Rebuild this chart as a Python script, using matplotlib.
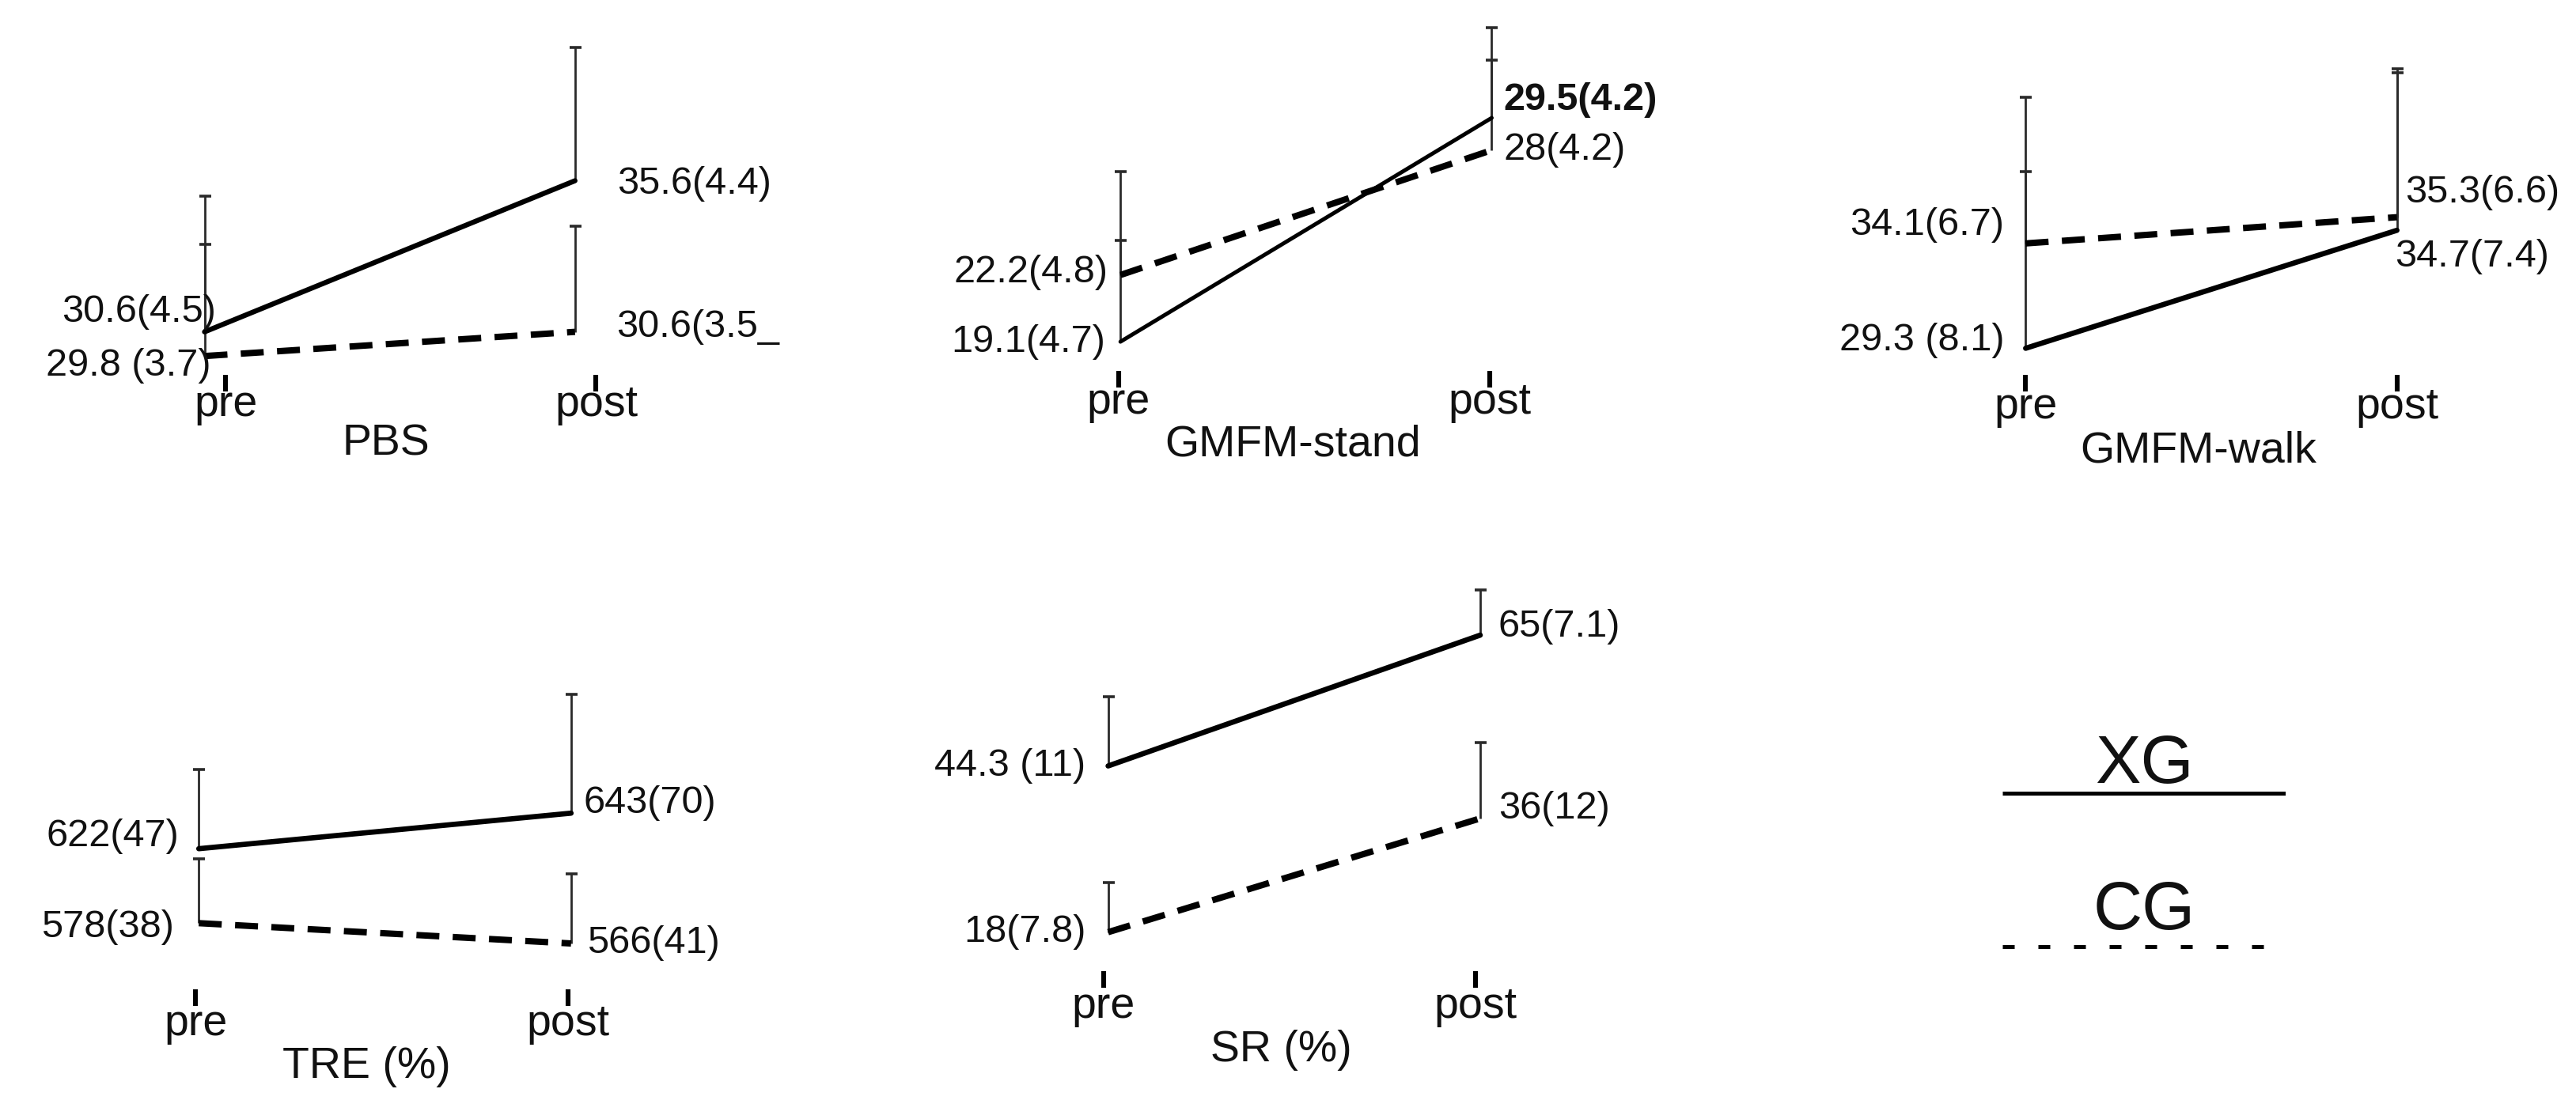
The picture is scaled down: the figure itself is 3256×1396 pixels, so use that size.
import numpy as np
import matplotlib
matplotlib.use("Agg")
import matplotlib.pyplot as plt

plt.rcParams['font.family'] = ['Liberation Sans', 'DejaVu Sans']

# ---------------- data ----------------
times = ['pre', 'post']
groups = ['XG', 'CG']
titles = ['PBS', 'GMFM-stand', 'GMFM-walk', 'TRE (%)', 'SR (%)']

pbs_xg_mean = [30.6, 35.6]
pbs_xg_sd = [4.5, 4.4]
pbs_cg_mean = [29.8, 30.6]
pbs_cg_sd = [3.7, 3.5]
pbs_xg_labels = ['30.6(4.5)', '35.6(4.4)']
pbs_cg_labels = ['29.8 (3.7)', '30.6(3.5_']

stand_xg_mean = [19.1, 29.5]
stand_xg_sd = [4.7, 4.2]
stand_cg_mean = [22.2, 28.0]
stand_cg_sd = [4.8, 4.2]
stand_xg_labels = ['19.1(4.7)', '29.5(4.2)']
stand_cg_labels = ['22.2(4.8)', '28(4.2)']

walk_xg_mean = [29.3, 34.7]
walk_xg_sd = [8.1, 7.4]
walk_cg_mean = [34.1, 35.3]
walk_cg_sd = [6.7, 6.6]
walk_xg_labels = ['29.3 (8.1)', '34.7(7.4)']
walk_cg_labels = ['34.1(6.7)', '35.3(6.6)']

tre_xg_mean = [622, 643]
tre_xg_sd = [47, 70]
tre_cg_mean = [578, 566]
tre_cg_sd = [38, 41]
tre_xg_labels = ['622(47)', '643(70)']
tre_cg_labels = ['578(38)', '566(41)']

sr_xg_mean = [44.3, 65.0]
sr_xg_sd = [11, 7.1]
sr_cg_mean = [18.0, 36.0]
sr_cg_sd = [7.8, 12]
sr_xg_labels = ['44.3 (11)', '65(7.1)']
sr_cg_labels = ['18(7.8)', '36(12)']

# ---------------- layout (in 1568x672 preview pixel units) ----------------
W, H = 1568.0, 672.0
PT = 2.077 * 72 / 200.0   # points per preview pixel


def fx(px):
    return px / W


def fy(py):
    return 1 - py / H


panels = [
    dict(xg=(pbs_xg_mean, pbs_xg_sd, pbs_xg_labels), cg=(pbs_cg_mean, pbs_cg_sd, pbs_cg_labels),
         x_pre=124.5, x_post=350, y0=202, v0=30.6, s=18.4, y_bot=228, y_top=5,
         tick_off=0.057, pad=-3.2, title_xy=(235, 277),
         xg_off=[(7, 12, 'right'), (25.5, -2, 'left')],
         cg_off=[(4, -6, 'right'), (25, 3, 'left')], bold=None, xg_lw=2.3),
    dict(xg=(stand_xg_mean, stand_xg_sd, stand_xg_labels), cg=(stand_cg_mean, stand_cg_sd, stand_cg_labels),
         x_pre=682, x_post=908, y0=208, v0=19.1, s=13.1, y_bot=226, y_top=5,
         tick_off=-0.005, pad=-2.5, title_xy=(787, 277.5),
         xg_off=[(-9, 0, 'right'), (7, 11, 'left')],
         cg_off=[(-7.5, 1.5, 'right'), (7, 0, 'left')], bold=1, xg_lw=1.8),
    dict(xg=(walk_xg_mean, walk_xg_sd, walk_xg_labels), cg=(walk_cg_mean, walk_cg_sd, walk_cg_labels),
         x_pre=1233, x_post=1459, y0=212, v0=29.3, s=13.3, y_bot=228, y_top=5,
         tick_off=0.0, pad=-1.8, title_xy=(1338, 281.5),
         xg_off=[(-13, 5, 'right'), (-1, -16, 'left')],
         cg_off=[(-13, 11, 'right'), (5, 15, 'left')], bold=None, xg_lw=2.4),
    dict(xg=(tre_xg_mean, tre_xg_sd, tre_xg_labels), cg=(tre_cg_mean, tre_cg_sd, tre_cg_labels),
         x_pre=121, x_post=347.6, y0=516.6, v0=622, s=1.03, y_bot=602, y_top=340,
         tick_off=-0.008, pad=-1.0, title_xy=(223, 656),
         xg_off=[(-12, 7.5, 'right'), (7.5, 6, 'left')],
         cg_off=[(-15, -2.6, 'right'), (9.5, 0, 'left')], bold=None, xg_lw=2.4),
    dict(xg=(sr_xg_mean, sr_xg_sd, sr_xg_labels), cg=(sr_cg_mean, sr_cg_sd, sr_cg_labels),
         x_pre=674.5, x_post=901, y0=479.6, v0=40.825, s=3.847, y_bot=591, y_top=340,
         tick_off=-0.013, pad=-0.5, title_xy=(780, 646),
         xg_off=[(-13.5, 0, 'right'), (11, 5, 'left')],
         cg_off=[(-13.5, 0, 'right'), (11, 6, 'left')], bold=None, xg_lw=2.4),
]

fig = plt.figure(figsize=(16.28, 6.98), dpi=200)

x = np.arange(len(times))
for p, title in zip(panels, titles):
    dx = p['x_post'] - p['x_pre']
    left = p['x_pre'] - 0.5 * dx
    ax = fig.add_axes([fx(left), fy(p['y_bot']), 2 * dx / W, (p['y_bot'] - p['y_top']) / H])
    ax.set_xlim(-0.5, 1.5)
    ax.set_ylim(p['v0'] + (p['y0'] - p['y_bot']) / p['s'],
                p['v0'] + (p['y0'] - p['y_top']) / p['s'])
    ax.patch.set_visible(False)
    for sp in ax.spines.values():
        sp.set_visible(False)

    for key, ls, lw in (('cg', (0, (3.6, 2.1)), 2.9), ('xg', '-', p['xg_lw'])):
        means, sds, labels = p[key]
        m = np.asarray(means, dtype=float)
        tops = m + np.asarray(sds, dtype=float)
        # upward-only error bars with a cap at the top end
        ax.vlines(x, m, tops, colors='#2a2a2a', linewidth=1.0, zorder=2)
        ax.plot(x, tops, linestyle='none', marker='_', markersize=5.4,
                markeredgewidth=1.3, color='#2a2a2a', zorder=2)
        ax.plot(x, m, color='black', lw=lw, linestyle=ls, zorder=3,
                solid_capstyle='round')
        offs = p[key + '_off']
        for i, lab in enumerate(labels):
            ox, oy, ha = offs[i]
            weight = 'bold' if (key == 'xg' and p['bold'] == i) else 'normal'
            ax.annotate(lab, xy=(x[i], means[i]), xytext=(ox * PT, oy * PT),
                        textcoords='offset points', ha=ha, va='center',
                        fontsize=17.5, fontweight=weight, color='#111111')

    ax.set_yticks([])
    ax.set_xticks(x + p['tick_off'])
    ax.set_xticklabels(times, fontsize=20)
    ax.tick_params(axis='x', length=7.5, width=2.2, pad=p['pad'], color='black',
                   labelcolor='#111111', direction='out')
    fig.text(fx(p['title_xy'][0]), fy(p['title_xy'][1]), title, ha='center',
             va='baseline', fontsize=20, color='#111111')

# ---------------- legend (key panel) ----------------
lx0, lx1 = 1219, 1391.5
lax = fig.add_axes([fx(lx0), fy(620), (lx1 - lx0) / W, (620 - 420) / H])
lax.set_xlim(lx0, lx1)
lax.set_ylim(620, 420)
lax.axis('off')
leg_line_y = [482.7, 576]
leg_text_y = [476.5, 565.5]
leg_styles = ['-', (0, (3, 6))]
for g, ly, ty, st in zip(groups, leg_line_y, leg_text_y, leg_styles):
    lax.plot([lx0, lx1], [ly, ly], color='black', lw=1.8, linestyle=st,
             solid_capstyle='butt', dash_capstyle='butt')
    lax.text((lx0 + lx1) / 2, ty, g, ha='center', va='baseline', fontsize=31,
             color='#111111')

fig.savefig('out.png', dpi=200)
